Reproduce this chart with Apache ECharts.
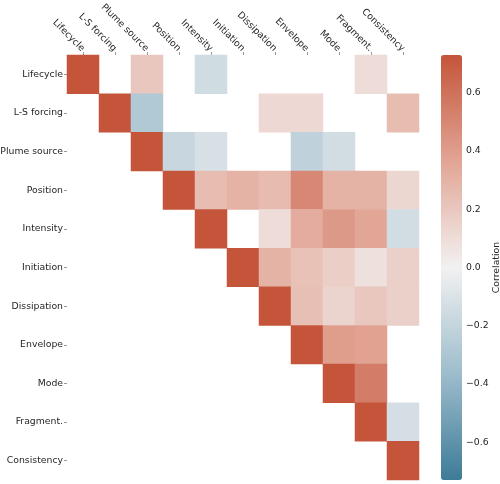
<!DOCTYPE html>
<html>
<head>
<meta charset="utf-8">
<script src="https://cdn.jsdelivr.net/npm/echarts@6/dist/echarts.min.js"></script>
<style>html,body{margin:0;padding:0;background:#fff}#c{width:500px;height:484px}</style>
</head>
<body>
<div id="c"></div>
<script>
const labels = ['Lifecycle','L-S forcing','Plume source','Position','Intensity','Initiation','Dissipation','Envelope','Mode','Fragment.','Consistency'];
// upper-triangular correlation matrix; null = masked (blank) cell
const rowLifecycle   = [1, null, 0.20, null, -0.15, null, null, null, null, 0.10, null];
const rowLSforcing   = [null, 1, -0.28, null, null, null, 0.12, 0.12, null, null, 0.25];
const rowPlume       = [null, null, 1, -0.18, -0.12, null, null, -0.22, -0.14, null, null];
const rowPosition    = [null, null, null, 1, 0.25, 0.30, 0.26, 0.50, 0.30, 0.30, 0.13];
const rowIntensity   = [null, null, null, null, 1, null, 0.10, 0.33, 0.42, 0.36, -0.14];
const rowInitiation  = [null, null, null, null, null, 1, 0.30, 0.23, 0.17, 0.08, 0.16];
const rowDissipation = [null, null, null, null, null, null, 1, 0.24, 0.14, 0.20, 0.16];
const rowEnvelope    = [null, null, null, null, null, null, null, 1, 0.40, 0.38, null];
const rowMode        = [null, null, null, null, null, null, null, null, 1, 0.55, null];
const rowFragment    = [null, null, null, null, null, null, null, null, null, 1, -0.13];
const rowConsistency = [null, null, null, null, null, null, null, null, null, null, 1];
const matrix = [rowLifecycle,rowLSforcing,rowPlume,rowPosition,rowIntensity,rowInitiation,rowDissipation,rowEnvelope,rowMode,rowFragment,rowConsistency];
const cbTicks = [-0.6,-0.4,-0.2,0.0,0.2,0.4,0.6];
const vmin = -0.73, vmax = 0.73;

const data = [];
matrix.forEach((row, yi) => row.forEach((v, xi) => { if (v !== null) data.push([xi, yi, v]); }));

const txt = '#262626';
const font = 'DejaVu Sans';
const fs = 9.3;
const chart = echarts.init(document.getElementById('c'), null, {renderer:'canvas'});
chart.setOption({
  animation: false,
  textStyle: {fontFamily: font},
  grid: [
    {left: 67, top: 55, width: 352, height: 425, outerBoundsMode: 'none', containLabel: false},
    {left: 441, top: 55, width: 21, height: 425, outerBoundsMode: 'none', containLabel: false}
  ],
  xAxis: [
    {type: 'category', data: labels, position: 'top', gridIndex: 0,
     axisLine: {show: false}, splitLine: {show: false},
     axisTick: {show: true, alignWithLabel: true, length: 3, lineStyle: {color: '#999'}},
     axisLabel: {rotate: 45, color: txt, fontSize: fs, fontFamily: font, margin: 5, interval: 0}},
    {type: 'value', gridIndex: 1, show: false, min: 0, max: 1}
  ],
  yAxis: [
    {type: 'category', data: labels, inverse: true, gridIndex: 0,
     axisLine: {show: false}, splitLine: {show: false},
     axisTick: {show: true, alignWithLabel: true, length: 3, lineStyle: {color: '#999'}},
     axisLabel: {color: txt, fontSize: fs, fontFamily: font, margin: 4, interval: 0}},
    {type: 'value', gridIndex: 1, position: 'right', min: vmin, max: vmax,
     axisLine: {show: false}, splitLine: {show: false},
     axisTick: {show: true, length: 3.5, lineStyle: {color: '#333'}, customValues: cbTicks},
     axisLabel: {color: txt, fontSize: fs, fontFamily: font, margin: 4, customValues: cbTicks,
       formatter: v => (v < 0 ? '\u2212' : '') + Math.abs(v).toFixed(1)},
     name: 'Correlation', nameLocation: 'middle', nameGap: 17,
     nameTextStyle: {color: txt, fontSize: fs, fontFamily: font}}
  ],
  visualMap: {
    type: 'continuous', min: vmin, max: vmax, seriesIndex: 0, calculable: false,
    orient: 'vertical', left: 441, top: 55, itemWidth: 21, itemHeight: 425, padding: 0,
    text: null, showLabel: false,
    inRange: {color: ['#3d7b98', '#9dbdcc', '#f2f1f1', '#e2a595', '#c4553a']}
  },
  series: [
    {type: 'heatmap', xAxisIndex: 0, yAxisIndex: 0, data: data, itemStyle: {borderWidth: 0}, emphasis: {disabled: true}},
    {type: 'scatter', xAxisIndex: 1, yAxisIndex: 1, data: [], silent: true}
  ]
});
</script>
</body>
</html>
